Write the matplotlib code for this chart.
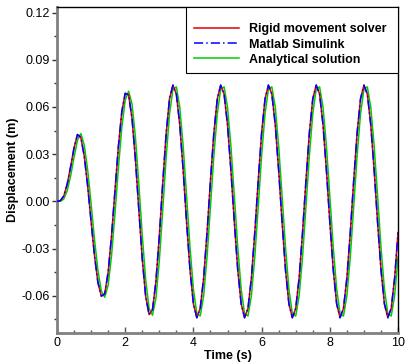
import matplotlib
matplotlib.use("Agg")
import matplotlib.pyplot as plt
import numpy as np
from matplotlib.patches import Rectangle
from matplotlib.ticker import MultipleLocator

plt.rcParams["font.family"] = ["Liberation Sans", "DejaVu Sans"]

# time grid (s), one sample every 0.1 s from 0 to 10
time = np.round(np.arange(0, 10.05, 0.1), 2)

# displacement (m), one row per second
disp_rigid = [
    0.0, 0.0005, 0.0035, 0.0110, 0.0220, 0.0340, 0.0425, 0.0406, 0.0287, 0.0097,
    -0.0128, -0.0345, -0.0515, -0.0602, -0.0587, -0.0450, -0.0218, 0.0067, 0.0347, 0.0569,
    0.0687, 0.0677, 0.0527, 0.0266, -0.0054, -0.0364, -0.0603, -0.0719, -0.0688, -0.0510,
    -0.0223, 0.0113, 0.0428, 0.0654, 0.0739, 0.0681, 0.0487, 0.0197, -0.0132, -0.0434,
    -0.0651, -0.0739, -0.0679, -0.0487, -0.0197, 0.0132, 0.0435, 0.0652, 0.0739, 0.0681,
    0.0487, 0.0197, -0.0132, -0.0434, -0.0651, -0.0739, -0.0679, -0.0487, -0.0197, 0.0132,
    0.0435, 0.0652, 0.0739, 0.0681, 0.0487, 0.0197, -0.0132, -0.0434, -0.0651, -0.0739,
    -0.0679, -0.0487, -0.0197, 0.0132, 0.0435, 0.0652, 0.0739, 0.0681, 0.0487, 0.0197,
    -0.0132, -0.0434, -0.0651, -0.0739, -0.0679, -0.0487, -0.0197, 0.0132, 0.0435, 0.0652,
    0.0739, 0.0681, 0.0487, 0.0197, -0.0132, -0.0434, -0.0651, -0.0739, -0.0679, -0.0487,
    -0.0197,
]
# Simulink curve sits on top of the solver curve at this scale
disp_simulink = list(disp_rigid)
disp_analytical = [
    0.0, 0.0001, 0.0015, 0.0068, 0.0162, 0.0280, 0.0388, 0.0431, 0.0357, 0.0199,
    -0.0014, -0.0241, -0.0438, -0.0569, -0.0609, -0.0533, -0.0343, -0.0078, 0.0211, 0.0468,
    0.0643, 0.0700, 0.0619, 0.0408, 0.0109, -0.0214, -0.0496, -0.0679, -0.0723, -0.0616,
    -0.0378, -0.0057, 0.0277, 0.0556, 0.0713, 0.0728, 0.0599, 0.0351, 0.0033, -0.0291,
    -0.0557, -0.0713, -0.0728, -0.0599, -0.0352, -0.0033, 0.0291, 0.0557, 0.0713, 0.0728,
    0.0599, 0.0351, 0.0033, -0.0291, -0.0557, -0.0713, -0.0728, -0.0599, -0.0352, -0.0033,
    0.0291, 0.0557, 0.0713, 0.0728, 0.0599, 0.0351, 0.0033, -0.0291, -0.0557, -0.0713,
    -0.0728, -0.0599, -0.0352, -0.0033, 0.0291, 0.0557, 0.0713, 0.0728, 0.0599, 0.0351,
    0.0033, -0.0291, -0.0557, -0.0713, -0.0728, -0.0599, -0.0352, -0.0033, 0.0291, 0.0557,
    0.0713, 0.0728, 0.0599, 0.0351, 0.0033, -0.0291, -0.0557, -0.0713, -0.0728, -0.0599,
    -0.0352,
]

labels = ["Rigid movement solver", "Matlab Simulink", "Analytical solution"]

fig = plt.figure(figsize=(4.07, 3.62), dpi=100)
ax = fig.add_axes([0.140, 0.081, 0.838, 0.900])

l_an, = ax.plot(time, disp_analytical, color="#00cc00", lw=1.1, zorder=2)
l_rs, = ax.plot(time, disp_rigid, color="#e00000", lw=1.1, zorder=3)
l_ms, = ax.plot(time, disp_simulink, color="#0000ff", lw=1.1,
                linestyle=(0, (6, 2, 1, 2)), zorder=4)

ax.set_xlim(0, 10)
ax.set_ylim(-0.0834, 0.1236)
ax.xaxis.set_minor_locator(MultipleLocator(0.5))
ax.yaxis.set_minor_locator(MultipleLocator(0.015))
ax.set_xticks([0, 2, 4, 6, 8, 10])
ax.set_xticklabels(["0", "2", "4", "6", "8", "10"])
ax.set_yticks([-0.06, -0.03, 0.0, 0.03, 0.06, 0.09, 0.12])
ax.set_yticklabels(["-0.06", "-0.03", "0.00", "0.03", "0.06", "0.09", "0.12"])

ax.tick_params(axis="x", which="both", direction="in", colors="#555555",
               labelcolor="black", labelsize=9, pad=3)
ax.tick_params(axis="x", which="major", length=4, width=1)
ax.tick_params(axis="x", which="minor", length=2.5, width=1)
ax.tick_params(axis="y", which="both", direction="out", colors="#333333",
               labelcolor="black", labelsize=9, pad=1.5)
ax.tick_params(axis="y", which="major", length=3.5, width=1)
ax.tick_params(axis="y", which="minor", length=2, width=1)

for side in ["left", "bottom"]:
    ax.spines[side].set_color("#808080")
    ax.spines[side].set_linewidth(2)
for side in ["top", "right"]:
    ax.spines[side].set_color("black")
    ax.spines[side].set_linewidth(1)

ax.set_xlabel("Time (s)", fontsize=9, fontweight="bold", labelpad=1)
ax.set_ylabel("Displacement (m)", fontsize=9, fontweight="bold", labelpad=2)

# legend box drawn by hand so the padding can differ per side
box = Rectangle((0.378, 0.797), 0.622, 0.203, transform=ax.transAxes,
                facecolor="white", edgecolor="black", lw=0.8, zorder=5)
ax.add_patch(box)
leg = ax.legend([l_rs, l_ms, l_an], labels, loc="upper right",
                bbox_to_anchor=(0.967, 0.949), prop={"size": 9, "weight": "bold"},
                frameon=False, borderaxespad=0, borderpad=0,
                handlelength=3.6, handletextpad=0.8, labelspacing=0.25)
leg.set_zorder(6)

fig.savefig("out.png", dpi=100)
